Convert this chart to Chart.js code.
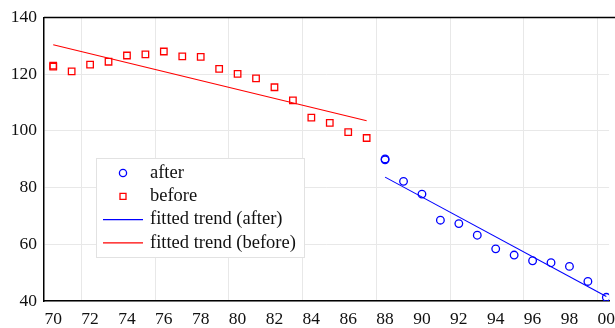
<!DOCTYPE html>
<html>
<head>
<meta charset="utf-8">
<script src="https://cdn.jsdelivr.net/npm/chart.js@4/dist/chart.umd.min.js"></script>
<style>
  html, body { margin: 0; padding: 0; background: #fff; }
  #wrap { width: 615px; height: 328px; }
</style>
</head>
<body>
<div id="wrap"><canvas id="trendChart"></canvas></div>
<script>
// years and values
var beforeYears = [70, 70, 71, 72, 73, 74, 75, 76, 77, 78, 79, 80, 81, 82, 83, 84, 85, 86, 87];
var beforeValues = [123.0, 122.7, 121.0, 123.4, 124.4, 126.6, 127.0, 128.0, 126.3, 126.1, 121.9, 120.1, 118.5, 115.4, 110.8, 104.7, 102.8, 99.6, 97.5];
var afterYears = [88, 88, 89, 90, 91, 92, 93, 94, 95, 96, 97, 98, 99, 100];
var afterValues = [90.1, 89.8, 82.2, 77.7, 68.5, 67.3, 63.2, 58.4, 56.2, 54.2, 53.5, 52.2, 46.9, 41.3];
var trendAfterYears = [88, 100];
var trendAfterValues = [83.7, 41.6];
var trendBeforeYears = [70, 87];
var trendBeforeValues = [130.4, 103.6];
var xTickYears = [70, 72, 74, 76, 78, 80, 82, 84, 86, 88, 90, 92, 94, 96, 98, 100];
var xGridYears = [71.53, 75.53, 79.53, 83.53, 87.53, 91.53, 95.53, 99.53];

function pairs(xs, ys) {
  return xs.map(function (x, i) { return {x: x, y: ys[i]}; });
}

Chart.defaults.font.family = "'Liberation Serif', 'Times New Roman', serif";
Chart.defaults.font.size = 17.5;
Chart.defaults.color = "#111";

var boxLegend = {
  id: "boxLegend",
  afterDraw: function (chart) {
    var ctx = chart.ctx;
    var a = chart.chartArea;
    ctx.save();
    // top frame line, runs off the right edge like the original
    ctx.strokeStyle = "#000";
    ctx.lineWidth = 1.5;
    ctx.beginPath();
    ctx.moveTo(a.left, a.top);
    ctx.lineTo(chart.width, a.top);
    ctx.stroke();

    var bx = 96, by = 158, bw = 208, bh = 99;
    ctx.fillStyle = "#fff";
    ctx.fillRect(bx, by, bw, bh);
    ctx.strokeStyle = "#e2e2e2";
    ctx.lineWidth = 1;
    ctx.strokeRect(bx + 0.5, by + 0.5, bw, bh);

    ctx.font = "18.5px 'Liberation Serif', serif";
    ctx.textBaseline = "middle";
    chart.data.datasets.forEach(function (ds, i) {
      var yy = 173 + i * 23.3;
      ctx.strokeStyle = ds.borderColor;
      if (ds.showLine) {
        ctx.lineWidth = 1.2;
        ctx.beginPath();
        ctx.moveTo(103, yy);
        ctx.lineTo(143, yy);
        ctx.stroke();
      } else {
        ctx.lineWidth = 1.3;
        ctx.beginPath();
        if (ds.pointStyle === "rect") {
          ctx.rect(120, yy - 3, 6, 6);
        } else {
          ctx.arc(123, yy, 3.6, 0, Math.PI * 2);
        }
        ctx.stroke();
      }
      ctx.fillStyle = "#111";
      ctx.fillText(ds.label, 150, yy);
    });
    ctx.restore();
  }
};

new Chart("trendChart", {
  type: "scatter",
  data: {
    datasets: [{
      label: "after",
      data: pairs(afterYears, afterValues),
      pointStyle: "circle",
      pointRadius: 3.8,
      borderColor: "#0000ff",
      backgroundColor: "rgba(0,0,0,0)",
      borderWidth: 1.3,
      showLine: false
    }, {
      label: "before",
      data: pairs(beforeYears, beforeValues),
      pointStyle: "rect",
      pointRadius: 4.6,
      borderColor: "#ff0000",
      backgroundColor: "rgba(0,0,0,0)",
      borderWidth: 1.3,
      showLine: false
    }, {
      label: "fitted trend (after)",
      data: pairs(trendAfterYears, trendAfterValues),
      showLine: true,
      pointRadius: 0,
      borderColor: "#0000ff",
      borderWidth: 1.1
    }, {
      label: "fitted trend (before)",
      data: pairs(trendBeforeYears, trendBeforeValues),
      showLine: true,
      pointRadius: 0,
      borderColor: "#ff0000",
      borderWidth: 1.1
    }]
  },
  options: {
    responsive: true,
    maintainAspectRatio: false,
    animation: false,
    layout: {padding: {top: 15, right: 0, left: 0, bottom: 0}},
    plugins: {
      legend: {display: false},
      tooltip: {enabled: false}
    },
    scales: {
      x: {
        type: "linear",
        min: 69.5,
        max: 100.15,
        grid: {display: false, drawTicks: false},
        border: {display: true, color: "#000", width: 1.5},
        afterBuildTicks: function (scale) {
          scale.ticks = xTickYears.map(function (v) { return {value: v}; });
        },
        afterFit: function (scale) {
          scale.height = 27;
          scale.paddingRight = 0;
          scale.paddingLeft = 0;
        },
        ticks: {
          padding: 8,
          maxRotation: 0,
          autoSkip: false,
          callback: function (v) { return String(v % 100).padStart(2, "0"); }
        }
      },
      xg: {
        type: "linear",
        position: "bottom",
        min: 69.5,
        max: 100.15,
        afterBuildTicks: function (scale) {
          scale.ticks = xGridYears.map(function (v) { return {value: v}; });
        },
        afterFit: function (scale) { scale.height = 0; },
        ticks: {display: false},
        border: {display: false},
        grid: {color: "#e8e8e8", lineWidth: 1, drawTicks: false}
      },
      y: {
        min: 40,
        max: 140,
        ticks: {stepSize: 20, padding: 7},
        afterFit: function (scale) { scale.width = 44; },
        grid: {color: "#e8e8e8", lineWidth: 1, drawTicks: false},
        border: {display: true, color: "#000", width: 1.5}
      }
    }
  },
  plugins: [boxLegend]
});
</script>
</body>
</html>
